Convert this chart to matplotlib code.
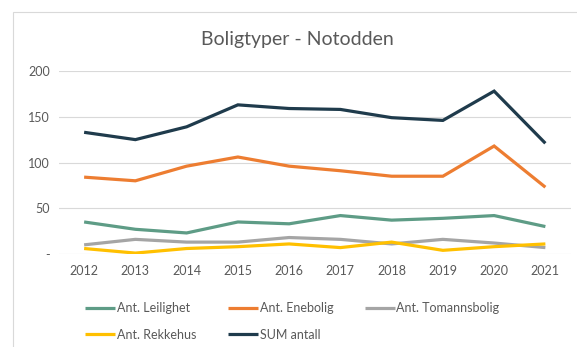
import matplotlib
matplotlib.use("Agg")
import matplotlib.pyplot as plt
from matplotlib.patches import Rectangle
from matplotlib.ticker import FuncFormatter

plt.rcParams['font.family'] = ['Lato', 'DejaVu Sans']

years = ["2012", "2013", "2014", "2015", "2016", "2017", "2018", "2019", "2020", "2021"]
leilighet = [35, 27, 23, 35, 33, 42, 37, 39, 42, 30]
enebolig = [84, 80, 96, 106, 96, 91, 85, 85, 118, 73]
tomannsbolig = [10, 16, 13, 13, 18, 16, 11, 16, 12, 7]
rekkehus = [6, 1, 6, 8, 11, 7, 13, 4, 8, 11]
sum_antall = [133, 125, 139, 163, 159, 158, 149, 146, 178, 121]

series = [
    ("Ant. Leilighet", leilighet, "#5E9C86"),
    ("Ant. Enebolig", enebolig, "#ED7D31"),
    ("Ant. Tomannsbolig", tomannsbolig, "#A5A5A5"),
    ("Ant. Rekkehus", rekkehus, "#FFC000"),
    ("SUM antall", sum_antall, "#1F3B4C"),
]

text_color = "#595959"
grid_color = "#D9D9D9"

W, H = 577, 347
fig = plt.figure(figsize=(W / 100, H / 100), dpi=100)

# outer chart frame
fig.patches.append(Rectangle((13 / W, -0.2), 1.0, 1.2 - 12 / H, transform=fig.transFigure,
                             fill=False, edgecolor=grid_color, linewidth=0.8))

left, right = 58.5 / W, 571 / W
bottom, top = 1 - 254 / H, 1 - 71 / H
ax = fig.add_axes([left, bottom, right - left, top - bottom])

x = list(range(len(years)))
handles = {}
for name, vals, col in series:
    (ln,) = ax.plot(x, vals, color=col, linewidth=2.3, label=name,
                    solid_joinstyle="miter", solid_capstyle="butt")
    handles[name] = ln

ax.set_xlim(-0.5, len(years) - 0.5)
ax.set_ylim(0, 200)
ax.set_yticks([0, 50, 100, 150, 200])
ax.yaxis.set_major_formatter(FuncFormatter(lambda v, p: "-" if v == 0 else f"{int(v)}"))
ax.set_xticks(x)
ax.set_xticklabels(years)
ax.grid(axis="y", color=grid_color, linewidth=0.8)
ax.set_axisbelow(True)
for s in ax.spines.values():
    s.set_visible(False)
ax.tick_params(axis="both", length=0, labelsize=9, labelcolor=text_color)
ax.tick_params(axis="y", pad=6)
ax.tick_params(axis="x", pad=8)

fig.text(297 / W, 1 - 40 / H, "Boligtyper - Notodden", ha="center", va="center",
         fontsize=14, color=text_color)

order = ["Ant. Leilighet", "Ant. Rekkehus", "Ant. Enebolig", "SUM antall", "Ant. Tomannsbolig"]
leg = fig.legend([handles[n] for n in order], order, ncol=3, loc="upper left",
                 bbox_to_anchor=(79 / W, 1 - 296 / H), frameon=False, fontsize=9,
                 handlelength=2.4, handletextpad=0.15, columnspacing=2.5,
                 labelspacing=1.15, borderpad=0)
for t in leg.get_texts():
    t.set_color(text_color)

fig.savefig("out.png", dpi=100, facecolor="white")
